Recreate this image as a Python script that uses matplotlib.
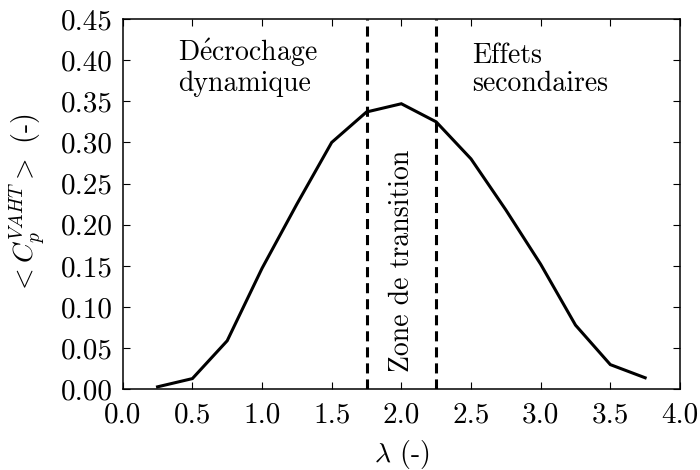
import matplotlib
matplotlib.use("Agg")
import matplotlib.pyplot as plt
from matplotlib.ticker import FormatStrFormatter

plt.rcParams['font.family'] = ['cmr10', 'DejaVu Serif']
plt.rcParams['mathtext.fontset'] = 'cm'
plt.rcParams['axes.formatter.use_mathtext'] = True
plt.rcParams['axes.unicode_minus'] = False

# data
tsr = [0.25, 0.5, 0.75, 1.0, 1.25, 1.5, 1.75, 2.0, 2.25, 2.5, 2.75, 3.0, 3.25, 3.5, 3.75]
cp = [0.003, 0.013, 0.059, 0.147, 0.225, 0.300, 0.337, 0.347, 0.325, 0.280, 0.218, 0.152, 0.078, 0.030, 0.014]
zone_limits = [1.75, 2.25]
xticks = [0.0, 0.5, 1.0, 1.5, 2.0, 2.5, 3.0, 3.5, 4.0]
yticks = [0.00, 0.05, 0.10, 0.15, 0.20, 0.25, 0.30, 0.35, 0.40, 0.45]

fig = plt.figure(figsize=(7, 4.7), dpi=100)
ax = fig.add_axes([0.1753, 0.1717, 0.7961, 0.7879])

ax.plot(tsr, cp, color='black', lw=2.2, solid_joinstyle='miter')
for xv in zone_limits:
    ax.axvline(xv, color='black', lw=2.2, linestyle=(0, (3.3, 1.95)))

ax.set_xlim(0, 4)
ax.set_ylim(0, 0.45)
ax.set_xticks(xticks)
ax.set_yticks(yticks)
ax.xaxis.set_major_formatter(FormatStrFormatter('%.1f'))
ax.yaxis.set_major_formatter(FormatStrFormatter('%.2f'))
ax.tick_params(direction='in', top=True, right=True, length=5, width=0.8,
               labelsize=21)
ax.tick_params(axis='x', pad=9)
ax.tick_params(axis='y', pad=7)
for s in ax.spines.values():
    s.set_linewidth(1.1)

ax.set_xlabel(r'$\lambda$ (-)', fontsize=20, labelpad=7)
ax.set_ylabel(r'$<C_p^{VAHT}>$ (-)', fontsize=20, labelpad=9)

ax.text(0.40, 0.362, 'D$\\acute{\\mathrm{e}}$crochage\ndynamique', fontsize=20,
        ha='left', va='baseline', linespacing=1.1)
ax.text(2.51, 0.362, 'Effets\nsecondaires', fontsize=20, ha='left', va='baseline',
        linespacing=1.1)
ax.text(2.0, 0.021, 'Zone de transition', fontsize=20, ha='center', va='bottom',
        rotation=90)

fig.savefig('out.png', dpi=100)
